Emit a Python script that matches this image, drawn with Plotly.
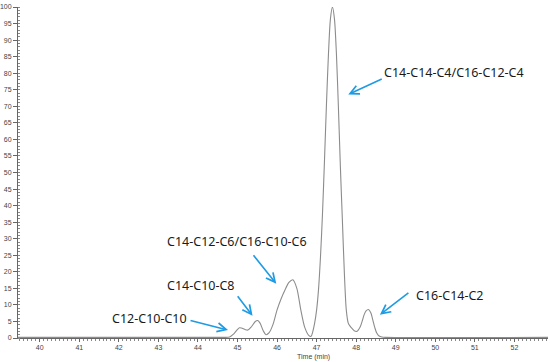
import plotly.graph_objects as go

# Chromatogram (time in min, relative abundance %)
time_min = [39.45, 44.60, 44.80, 44.90, 45.00, 45.05, 45.10, 45.20, 45.26, 45.35, 45.45, 45.51,
            45.57, 45.65, 45.72, 45.80, 45.90, 46.00, 46.10, 46.20, 46.30, 46.40, 46.50,
            46.60, 46.70, 46.80, 46.86, 46.90, 46.95, 47.00, 47.05, 47.10, 47.15, 47.20,
            47.25, 47.30, 47.35, 47.40, 47.45, 47.50, 47.55, 47.60, 47.65, 47.70, 47.75,
            47.80, 47.85, 47.90, 47.95, 48.02, 48.10, 48.15, 48.20, 48.25, 48.31, 48.37,
            48.42, 48.47, 48.52, 48.58, 48.65, 48.75, 52.85]
intensity = [0.2, 0.2, 0.3, 1.2, 2.6, 3.1, 3.0, 2.5, 2.4, 3.4, 5.0, 5.3,
             4.5, 2.2, 1.0, 1.6, 4.2, 8.5, 11.8, 14.5, 16.8, 17.6, 15.0,
             8.5, 3.2, 0.8, 0.5, 1.8, 4.5, 8.5, 15.0, 25.0, 38.0, 54.0,
             71.0, 86.0, 96.5, 100.0, 96.5, 86.0, 70.0, 52.0, 36.0, 20.0, 8.5,
             4.5, 3.5, 2.8, 2.2, 2.0, 3.3, 5.0, 7.0, 8.2, 8.6, 7.6,
             5.5, 3.2, 1.5, 0.6, 0.3, 0.2, 0.2]

x_range = [39.45, 52.85]
y_range = [0, 100]
x_ticks = list(range(40, 53))
y_ticks = list(range(0, 101, 5))

labels = ["C14-C14-C4/C16-C12-C4", "C14-C12-C6/C16-C10-C6", "C14-C10-C8",
          "C12-C10-C10", "C16-C14-C2"]
# text centre (data) and arrow head (data)
label_x = [50.47, 44.98, 44.07, 42.78, 50.36]
label_y = [80.2, 29.2, 15.8, 5.8, 12.9]
head_x = [47.80, 45.98, 45.38, 44.76, 48.60]
head_y = [73.6, 16.4, 6.7, 2.4, 7.0]
tail_dx = [35, -24, -16, -39, 30]
tail_dy = [-16, -30, -21, -10, -23]

fig = go.Figure()
fig.add_trace(go.Scatter(
    x=time_min, y=intensity, mode="lines",
    line=dict(color="#8c8c8c", width=1.1, shape="spline", smoothing=0.8),
    hoverinfo="skip", showlegend=False))

blue = "#1e9be3"
for i, lab in enumerate(labels):
    fig.add_annotation(x=label_x[i], y=label_y[i], xref="x", yref="y", text=lab,
                       showarrow=False, font=dict(family="Noto Sans", size=12.5, color="#1a1a1a"))
    fig.add_annotation(x=head_x[i], y=head_y[i], xref="x", yref="y", text="",
                       showarrow=True, ax=tail_dx[i], ay=tail_dy[i],
                       arrowhead=5, arrowsize=1.1, arrowwidth=1.6, arrowcolor=blue)

fig.add_annotation(x=46.93, y=0, xref="x", yref="paper", yanchor="middle", yshift=-19,
                   text="Time (min)", showarrow=False,
                   font=dict(family="Liberation Sans", size=7, color="#444444"))

axis_font = dict(family="Liberation Sans", size=7, color="#444444")
fig.update_xaxes(range=x_range, tickvals=x_ticks, ticks="outside", ticklen=3, tickwidth=1,
                 tickcolor="#666666", showline=True, linecolor="#666666", linewidth=1,
                 showgrid=False, zeroline=False, tickfont=axis_font, automargin=False,
                 minor=dict(dtick=0.1, ticks="outside", ticklen=2, tickcolor="#888888", showgrid=False))
fig.update_yaxes(range=y_range, tickvals=y_ticks, ticks="outside", ticklen=4, tickwidth=1,
                 tickcolor="#666666", showline=True, linecolor="#666666", linewidth=1,
                 showgrid=False, zeroline=False, tickfont=axis_font, automargin=False,
                 minor=dict(dtick=1, ticks="inside", ticklen=2, tickcolor="#888888", showgrid=False))

fig.update_layout(width=550, height=362, margin=dict(l=18, r=2, t=7, b=24),
                  plot_bgcolor="white", paper_bgcolor="white", showlegend=False)

fig.write_html("out.html", config={"displayModeBar": False},
               post_script="document.body.style.margin='0';document.body.style.overflow='hidden';")
